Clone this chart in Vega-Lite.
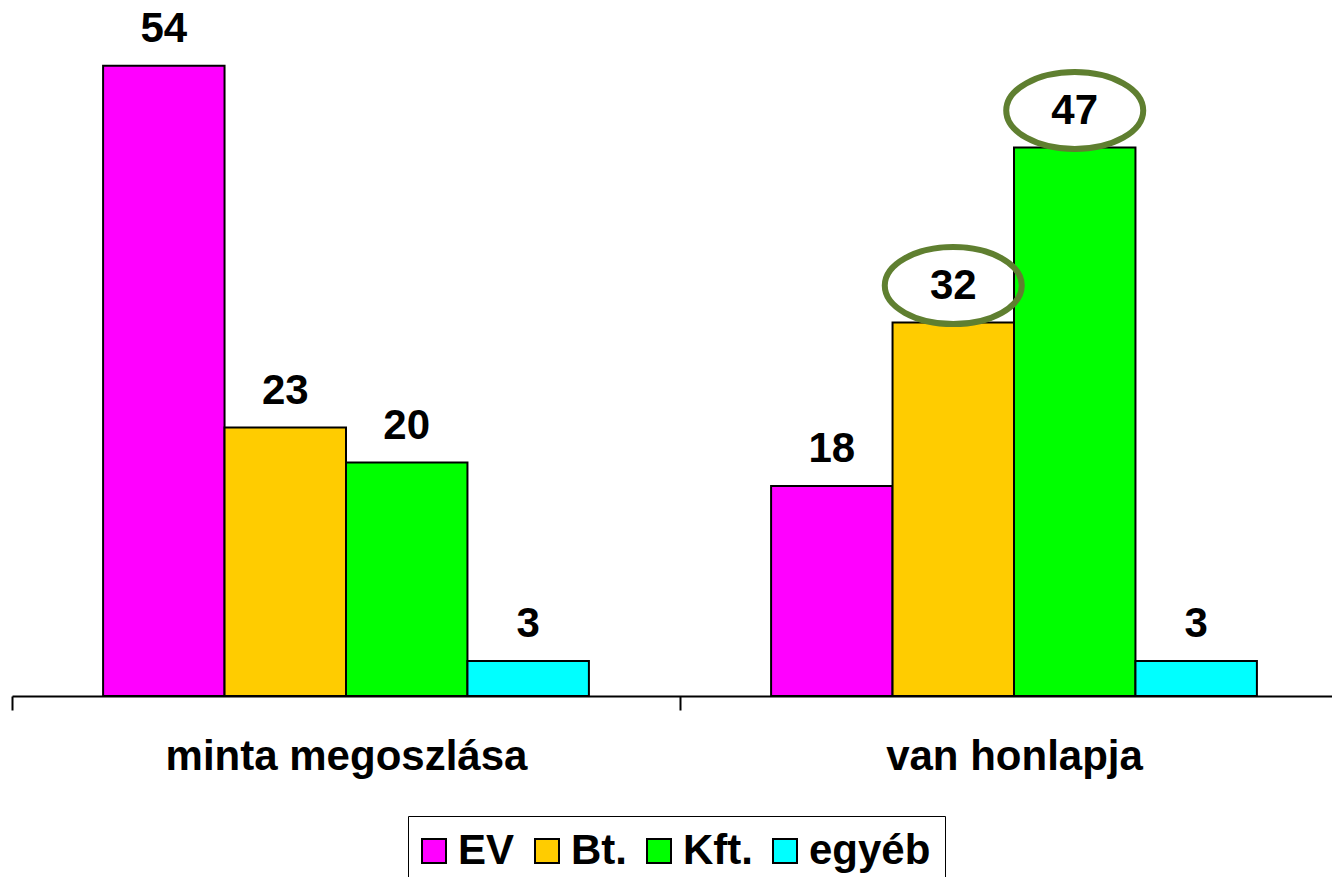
{
  "$schema": "https://vega.github.io/schema/vega-lite/v6.json",
  "width": 1336,
  "height": 696,
  "autosize": "none",
  "padding": {"left": 12, "top": 0, "right": 0, "bottom": 181},
  "background": "white",
  "config": {"view": {"stroke": null}, "font": "Liberation Sans"},
  "data": {
    "values": [
      {"group": "minta megoszlása", "series": "EV", "value": 54, "highlight": false},
      {"group": "minta megoszlása", "series": "Bt.", "value": 23, "highlight": false},
      {"group": "minta megoszlása", "series": "Kft.", "value": 20, "highlight": false},
      {"group": "minta megoszlása", "series": "egyéb", "value": 3, "highlight": false},
      {"group": "van honlapja", "series": "EV", "value": 18, "highlight": false},
      {"group": "van honlapja", "series": "Bt.", "value": 32, "highlight": true},
      {"group": "van honlapja", "series": "Kft.", "value": 47, "highlight": true},
      {"group": "van honlapja", "series": "egyéb", "value": 3, "highlight": false}
    ]
  },
  "encoding": {
    "x": {
      "field": "group",
      "type": "nominal",
      "sort": null,
      "scale": {"paddingInner": 0, "paddingOuter": 0},
      "axis": {
        "title": null,
        "labelAngle": 0,
        "domainColor": "black",
        "domainWidth": 2,
        "tickColor": "black",
        "tickWidth": 2,
        "tickSize": 14,
        "tickBand": "extent",
        "labelFontSize": 42,
        "labelFont": "Liberation Sans",
        "labelFontWeight": "bold",
        "labelColor": "black",
        "labelPadding": 26,
        "labelLimit": 0,
        "grid": false
      }
    },
    "xOffset": {
      "field": "series",
      "type": "nominal",
      "sort": ["EV", "Bt.", "Kft.", "egyéb"],
      "scale": {"paddingInner": 0, "paddingOuter": 0.75}
    },
    "y": {
      "field": "value",
      "type": "quantitative",
      "scale": {"domain": [0, 59.64], "nice": false},
      "axis": null
    }
  },
  "layer": [
    {
      "mark": {"type": "bar", "stroke": "black", "strokeWidth": 2, "opacity": 1},
      "encoding": {
        "color": {
          "field": "series",
          "type": "nominal",
          "scale": {
            "domain": ["EV", "Bt.", "Kft.", "egyéb"],
            "range": ["#FF00FF", "#FFCC00", "#00FF00", "#00FFFF"]
          },
          "legend": {
            "title": null,
            "orient": "none",
            "legendX": 396,
            "legendY": 816,
            "direction": "horizontal",
            "symbolType": "square",
            "symbolSize": 576,
            "symbolStrokeColor": "black",
            "symbolStrokeWidth": 2,
            "symbolOpacity": 1,
            "symbolOffset": -9,
            "labelFontSize": 42,
            "labelFont": "Liberation Sans",
            "labelFontWeight": "bold",
            "labelColor": "black",
            "labelOffset": 3,
            "labelLimit": 0,
            "columnPadding": 16,
            "padding": 14,
            "strokeColor": "black",
            "fillColor": "white"
          }
        }
      }
    },
    {
      "mark": {
        "type": "text",
        "dy": -24,
        "baseline": "alphabetic",
        "fontSize": 42,
        "fontWeight": "bold",
        "font": "Liberation Sans",
        "color": "black"
      },
      "encoding": {"text": {"field": "value", "type": "quantitative"}}
    },
    {
      "transform": [{"filter": "datum.highlight"}],
      "mark": {
        "type": "point",
        "shape": "M -1 0 A 1 0.562 0 1 1 1 0 A 1 0.562 0 1 1 -1 0 Z",
        "size": 18769,
        "filled": false,
        "stroke": "#5f7f30",
        "strokeWidth": 6,
        "opacity": 1,
        "yOffset": -37
      }
    }
  ]
}
